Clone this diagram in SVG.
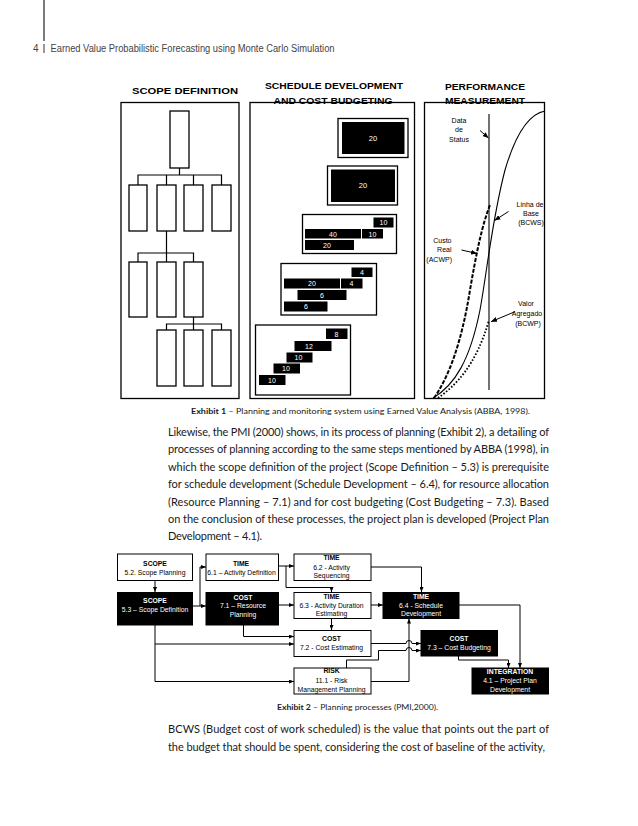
<svg xmlns="http://www.w3.org/2000/svg" width="638" height="826" viewBox="0 0 638 826">
<style>
.hd{font-family:"Liberation Sans",Arial,sans-serif;font-size:10px;fill:#444}
.ttl{font-family:"Liberation Sans",Arial,sans-serif;font-weight:bold;font-size:9.5px;fill:#000;text-anchor:middle}
.pnl{fill:#fff;stroke:#000;stroke-width:1.3}
.wb{fill:#fff;stroke:#000;stroke-width:1.3}
.ln{fill:none;stroke:#000;stroke-width:1.2}
.bar{fill:#000}
.wn{font-family:"Liberation Sans",Arial,sans-serif;font-size:7px;fill:#fff;text-anchor:middle}
.lbl{font-family:"Liberation Sans",Arial,sans-serif;font-size:7px;fill:#000;text-anchor:middle}
.para{font-family:Lato,"Open Sans",sans-serif;font-size:11px;fill:#1a1a1a}
.cap{font-family:Lato,"Open Sans",sans-serif;font-size:7.5px;fill:#1a1a1a}
.e2w{fill:#fff;stroke:#000;stroke-width:1}
.e2b{fill:#000;stroke:#000;stroke-width:1}
.e2t{font-family:"Liberation Sans",Arial,sans-serif;font-size:6.8px;text-anchor:middle;fill:#000}
.e2k{font-family:"Liberation Sans",Arial,sans-serif;font-size:6.8px;text-anchor:middle;fill:#fff}
.b{font-weight:bold}
.cn{fill:none;stroke:#000;stroke-width:1}
</style>
<defs>
<marker id="ah" markerWidth="5" markerHeight="4" refX="5" refY="2" orient="auto" markerUnits="userSpaceOnUse"><path d="M0,0 L5,2 L0,4 z" fill="#000"/></marker>
<marker id="ah2" markerWidth="6" markerHeight="5" refX="6" refY="2.5" orient="auto" markerUnits="userSpaceOnUse"><path d="M0,0 L6,2.5 L0,5 z" fill="#000"/></marker>
</defs>

<!-- header -->
<g id="header">
<line x1="44" y1="0" x2="44" y2="41" stroke="#333" stroke-width="1.3"/>
<line x1="44" y1="44" x2="44" y2="53" stroke="#333" stroke-width="1"/>
<text class="hd" x="33" y="52">4</text>
<text class="hd" x="50.5" y="52" textLength="284" lengthAdjust="spacingAndGlyphs">Earned Value Probabilistic Forecasting using Monte Carlo Simulation</text>
</g>

<!-- Exhibit 1 : scope definition -->
<g id="scope-definition">
<text class="ttl" x="185" y="94" textLength="106" lengthAdjust="spacingAndGlyphs">SCOPE DEFINITION</text>
<rect class="pnl" x="121" y="102.5" width="118" height="296"/>
<rect class="wb" x="170" y="111" width="19" height="57"/>
<rect class="wb" x="129" y="185" width="18" height="46"/>
<rect class="wb" x="157" y="185" width="19" height="46"/>
<rect class="wb" x="184" y="185" width="19" height="46"/>
<rect class="wb" x="212" y="185" width="19" height="46"/>
<rect class="wb" x="129" y="262" width="18" height="55"/>
<rect class="wb" x="157" y="262" width="19" height="55"/>
<rect class="wb" x="184" y="262" width="19" height="55"/>
<rect class="wb" x="157" y="330" width="19" height="56"/>
<rect class="wb" x="184" y="330" width="19" height="56"/>
<rect class="wb" x="212" y="330" width="19" height="56"/>
<path class="ln" d="M179.5,168 V175 M138,185 V175 H221.5 V185 M166.5,175 V185 M193.5,175 V185 M166.5,231 V253 M138,262 V253 H193.5 V262 M166.5,253 V262 M193.5,317 V324 M166.5,330 V324 H221.5 V330 M193.5,324 V330"/>
</g>

<!-- Exhibit 1 : schedule development -->
<g id="schedule-development">
<text class="ttl" x="334" y="89" textLength="138" lengthAdjust="spacingAndGlyphs">SCHEDULE DEVELOPMENT</text>
<text class="ttl" x="333" y="103.5" textLength="119" lengthAdjust="spacingAndGlyphs">AND COST BUDGETING</text>
<rect x="250" y="102.5" width="164.5" height="296" fill="none" stroke="#000" stroke-width="1.3"/>
<rect class="wb" x="338" y="118.5" width="70" height="39"/>
<rect class="bar" x="342" y="122" width="62.5" height="32"/>
<text class="wn" x="373" y="140.5" style="font-size:7.5px">20</text>
<rect class="wb" x="327.5" y="166" width="70" height="39"/>
<rect class="bar" x="331" y="169.5" width="64" height="32.5"/>
<text class="wn" x="363" y="188" style="font-size:7.5px">20</text>
<rect class="wb" x="302.5" y="214.5" width="94" height="39"/>
<rect class="bar" x="373.5" y="217.5" width="20" height="10"/><text class="wn" x="383.5" y="225">10</text>
<rect class="bar" x="305" y="229" width="56" height="9.5"/><text class="wn" x="333" y="236.5">40</text>
<rect class="bar" x="362" y="229" width="21" height="9.5"/><text class="wn" x="372.5" y="236.5">10</text>
<rect class="bar" x="305" y="240" width="49" height="10"/><text class="wn" x="327" y="247.5">20</text>
<rect class="wb" x="281" y="263.5" width="95.5" height="51.5"/>
<rect class="bar" x="351.5" y="267.5" width="21" height="9.5"/><text class="wn" x="362" y="275">4</text>
<rect class="bar" x="284" y="278.5" width="56" height="10"/><text class="wn" x="312" y="286">20</text>
<rect class="bar" x="341" y="278.5" width="21.5" height="10"/><text class="wn" x="351.5" y="286">4</text>
<rect class="bar" x="297.5" y="290" width="49" height="10"/><text class="wn" x="322" y="297.5">6</text>
<rect class="bar" x="284" y="301.5" width="43.5" height="10"/><text class="wn" x="306" y="309">6</text>
<rect class="wb" x="255.5" y="325" width="95" height="70"/>
<rect class="bar" x="326" y="328.5" width="21.5" height="10.5"/><text class="wn" x="336.5" y="336.5">8</text>
<rect class="bar" x="294.5" y="341" width="37" height="10"/><text class="wn" x="309" y="348.5">12</text>
<rect class="bar" x="286.5" y="352.5" width="26" height="10"/><text class="wn" x="298.5" y="360">10</text>
<rect class="bar" x="273.5" y="363.5" width="26.5" height="10"/><text class="wn" x="286" y="371">10</text>
<rect class="bar" x="259" y="375" width="26.5" height="10"/><text class="wn" x="272" y="382.5">10</text>
</g>

<!-- Exhibit 1 : performance measurement -->
<g id="performance-measurement">
<text class="ttl" x="485" y="89.5" textLength="80" lengthAdjust="spacingAndGlyphs">PERFORMANCE</text>
<path d="M433,398 C455,385 470,360 480,310 C488,265 492,220 505,170 C515,136 528,114 545,111" fill="none" stroke="#000" stroke-width="1.1"/>
<path d="M434,398 C450,375 462,340 470,290 C476,255 482,225 490,205" fill="none" stroke="#000" stroke-width="2" stroke-dasharray="4 1.5"/>
<path d="M438,398 C455,386 476,366 489,320" fill="none" stroke="#000" stroke-width="1.8" stroke-dasharray="1.6 1.8"/>
<line x1="489" y1="114" x2="489" y2="390" stroke="#000" stroke-width="1.1"/>
<text class="lbl" x="459" y="123">Data</text>
<text class="lbl" x="459" y="132">de</text>
<text class="lbl" x="459" y="142">Status</text>
<text class="lbl" x="530" y="206.5">Linha de</text>
<text class="lbl" x="531" y="215.5">Base</text>
<text class="lbl" x="531" y="224.5">(BCWS)</text>
<text class="lbl" x="451.5" y="242.5" style="text-anchor:end">Custo</text>
<text class="lbl" x="451.5" y="251.5" style="text-anchor:end">Real</text>
<text class="lbl" x="452" y="261.5" style="text-anchor:end">(ACWP)</text>
<text class="lbl" x="526" y="306">Valor</text>
<text class="lbl" x="527" y="316">Agregado</text>
<text class="lbl" x="528" y="326">(BCWP)</text>
<path class="cn" d="M480,130.5 L488.5,138" marker-end="url(#ah2)"/>
<path class="cn" d="M508.5,211.5 L494.5,220.5" marker-end="url(#ah2)"/>
<path class="cn" d="M461.5,250 L477,253.5" marker-end="url(#ah2)"/>
<path class="cn" d="M515,311.7 L491,321.7" marker-end="url(#ah2)"/>
<rect x="424.5" y="102.5" width="120" height="296" fill="none" stroke="#000" stroke-width="1.3"/>
<text class="ttl" x="485" y="103.5" textLength="80" lengthAdjust="spacingAndGlyphs">MEASUREMENT</text>
</g>

<text class="cap" x="191" y="414" textLength="339" lengthAdjust="spacingAndGlyphs"><tspan class="b">Exhibit 1</tspan> – Planning and monitoring system using Earned Value Analysis  (ABBA, 1998).</text>

<g id="paragraph1" class="para">
<text x="168" y="436" textLength="381" lengthAdjust="spacing">Likewise, the PMI (2000) shows, in its process of planning (Exhibit 2), a detailing of</text>
<text x="168" y="453.4" textLength="381" lengthAdjust="spacing">processes of planning according to the same steps mentioned by ABBA (1998), in</text>
<text x="168" y="470.8" textLength="381" lengthAdjust="spacing">which the scope definition of the project (Scope Definition – 5.3) is prerequisite</text>
<text x="168" y="488.2" textLength="381" lengthAdjust="spacing">for schedule development (Schedule Development – 6.4), for resource allocation</text>
<text x="168" y="505.6" textLength="381" lengthAdjust="spacing">(Resource Planning – 7.1) and for cost budgeting (Cost Budgeting – 7.3). Based</text>
<text x="168" y="523" textLength="381" lengthAdjust="spacing">on the conclusion of these processes, the project plan is developed (Project Plan</text>
<text x="168" y="540.4" textLength="94" lengthAdjust="spacing">Development – 4.1).</text>
</g>

<!-- Exhibit 2 -->
<g id="connectors2">
<path class="cn" d="M155,580.5 V592" marker-end="url(#ah)"/>
<path class="cn" d="M193,606 H206" marker-end="url(#ah)"/>
<path class="cn" d="M200,606 V567 H206" marker-end="url(#ah)"/>
<path class="cn" d="M278.5,566 H294" marker-end="url(#ah)"/>
<path class="cn" d="M286,566 V587.5 H331.5 V592" marker-end="url(#ah)"/>
<path class="cn" d="M371,567 H421.5 V592" marker-end="url(#ah)"/>
<path class="cn" d="M278.5,605 H294" marker-end="url(#ah)"/>
<path class="cn" d="M243.5,625 V636.5 H294" marker-end="url(#ah)"/>
<path class="cn" d="M155,625 V681.5 H294" marker-end="url(#ah)"/>
<path class="cn" d="M155,644 H294" marker-end="url(#ah)"/>
<path class="cn" d="M331.5,618.5 V630" marker-end="url(#ah)"/>
<path class="cn" d="M371,605 H383" marker-end="url(#ah)"/>
<path class="cn" d="M371,643.5 H406 A3,3 0 0 1 412,643.5 H421" marker-end="url(#ah)"/>
<path class="cn" d="M346.5,668 V660 H378.5 V650.5 H406 A3,3 0 0 1 412,650.5 H421" marker-end="url(#ah)"/>
<path class="cn" d="M371,681.5 H409 V618.5" marker-end="url(#ah)"/>
<path class="cn" d="M459,605 H520 V668" marker-end="url(#ah)"/>
<path class="cn" d="M458.5,656 V660 H508.5 V668" marker-end="url(#ah)"/>
</g>
<g id="n52"><rect class="e2w" x="117.5" y="554" width="75" height="26.5"/><text class="e2t b" x="155" y="566">SCOPE</text><text class="e2t" x="155" y="574.5">5.2. Scope Planning</text></g>
<g id="n53"><rect class="e2b" x="117.5" y="592.5" width="75" height="32.5"/><text class="e2k b" x="155" y="603">SCOPE</text><text class="e2k" x="155" y="612">5.3 – Scope Definition</text></g>
<g id="n61"><rect class="e2w" x="206" y="554" width="72.5" height="26.5"/><text class="e2t b" x="241" y="566">TIME</text><text class="e2t" x="241.5" y="574.5">6.1 – Activity Definition</text></g>
<g id="n71"><rect class="e2b" x="206" y="592.5" width="72.5" height="32.5"/><text class="e2k b" x="243" y="599.5">COST</text><text class="e2k" x="243" y="608.3">7.1 – Resource</text><text class="e2k" x="243" y="616.7">Planning</text></g>
<g id="n62"><rect class="e2w" x="294" y="554" width="77" height="26.5"/><text class="e2t b" x="331.5" y="560.3">TIME</text><text class="e2t" x="331.5" y="570">6.2 -  Activity</text><text class="e2t" x="331.5" y="577.5">Sequencing</text></g>
<g id="n63"><rect class="e2w" x="294" y="592.5" width="77" height="26"/><text class="e2t b" x="331.5" y="598.7">TIME</text><text class="e2t" x="331.5" y="608">6.3 -  Activity Duration</text><text class="e2t" x="331.5" y="615.7">Estimating</text></g>
<g id="n72"><rect class="e2w" x="294" y="630.5" width="77" height="26"/><text class="e2t b" x="331.5" y="640.7">COST</text><text class="e2t" x="331.5" y="650">7.2 -  Cost Estimating</text></g>
<g id="n111"><rect class="e2w" x="294" y="668" width="77" height="26"/><text class="e2t b" x="331.5" y="673">RISK</text><text class="e2t" x="331.5" y="683">11.1 -  Risk</text><text class="e2t" x="331.5" y="692">Management Planning</text></g>
<g id="n64"><rect class="e2b" x="383" y="592.5" width="76" height="26"/><text class="e2k b" x="421" y="598.7">TIME</text><text class="e2k" x="421" y="608">6.4 -  Schedule</text><text class="e2k" x="421" y="615.7">Development</text></g>
<g id="n73"><rect class="e2b" x="421" y="630.5" width="76.5" height="25.5"/><text class="e2k b" x="459" y="640.7">COST</text><text class="e2k" x="459" y="650">7.3 – Cost Budgeting</text></g>
<g id="n41"><rect class="e2b" x="472" y="668" width="76.5" height="26"/><text class="e2k b" x="510" y="673.5">INTEGRATION</text><text class="e2k" x="510" y="683">4.1 – Project Plan</text><text class="e2k" x="510" y="692">Development</text></g>

<text class="cap" x="277" y="710" textLength="161" lengthAdjust="spacingAndGlyphs"><tspan class="b">Exhibit 2</tspan> – Planning processes (PMI,2000).</text>

<g id="paragraph2" class="para">
<text x="168" y="733" textLength="381" lengthAdjust="spacing">BCWS (Budget cost of work scheduled) is the value that points out the part of</text>
<text x="168" y="750.5" textLength="377" lengthAdjust="spacing">the budget that should be spent, considering the cost of baseline of the activity,</text>
</g>
</svg>
